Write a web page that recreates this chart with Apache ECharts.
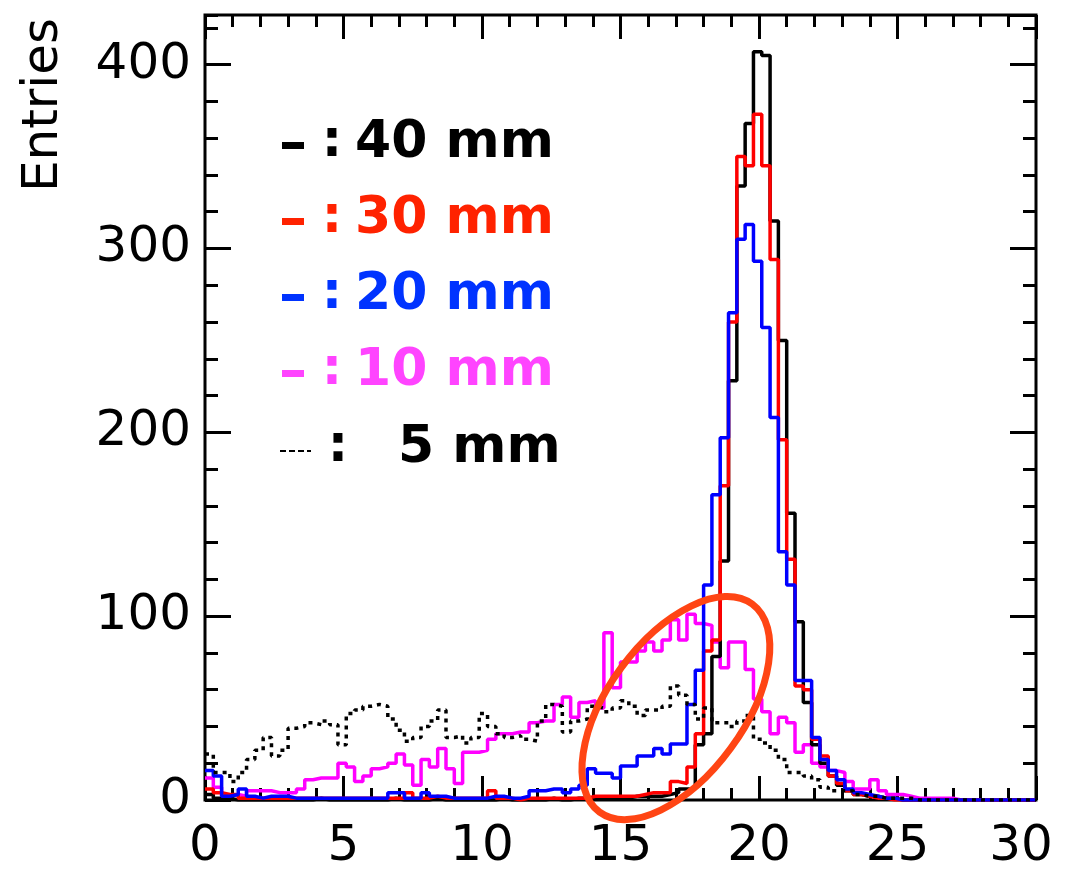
<!DOCTYPE html>
<html>
<head>
<meta charset="utf-8">
<script src="https://cdn.jsdelivr.net/npm/echarts@6/dist/echarts.min.js"></script>
<style>
  html, body { margin: 0; padding: 0; background: #ffffff; }
  #chart { width: 1069px; height: 872px; }
</style>
</head>
<body>
<div id="chart"></div>
<script>
// Histograms: 100 bins of width 0.3 from 0 to 30, one entry per bin.
const binWidth = 0.3;
const xTickLabels = ['0', '5', '10', '15', '20', '25', '30'];
const yTickLabels = ['0', '100', '200', '300', '400'];

const legendLabels = ['40 mm', '30 mm', '20 mm', '10 mm', '5 mm'];

const h40mm = [
  3, 1, 1, 0, 0, 0, 0, 0, 0, 0,
  0, 0, 0, 1, 0, 0, 0, 0, 0, 0,
  0, 0, 1, 0, 0, 0, 0, 1, 0, 0,
  0, 0, 0, 0, 0, 1, 0, 0, 0, 0,
  0, 1, 0, 0, 1, 1, 1, 1, 1, 1,
  1, 2, 2, 2, 2, 3, 4, 6, 6, 30,
  36, 78, 130, 228, 334, 368, 407, 405, 315, 250,
  156, 97, 53, 30, 20, 13, 8, 5, 3, 2,
  2, 1, 1, 0, 0, 0, 0, 0, 0, 0,
  0, 0, 0, 0, 0, 0, 0, 0, 0, 0
];

const h30mm = [
  6, 4, 3, 3, 1, 1, 1, 1, 1, 1,
  1, 1, 1, 1, 1, 1, 1, 1, 1, 1,
  1, 1, 1, 1, 4, 1, 1, 2, 1, 1,
  1, 1, 1, 1, 5, 1, 1, 0, 1, 1,
  1, 1, 1, 1, 1, 1, 2, 2, 2, 2,
  2, 2, 3, 4, 4, 4, 10, 9, 18, 36,
  81, 87, 171, 260, 350, 345, 373, 345, 294, 196,
  131, 62, 60, 33, 24, 13, 9, 5, 3, 2,
  1, 1, 0, 0, 0, 0, 0, 0, 0, 0,
  0, 0, 0, 0, 0, 0, 0, 0, 0, 0
];

const h20mm = [
  16, 13, 2, 3, 6, 2, 1, 2, 2, 2,
  1, 1, 1, 1, 1, 1, 1, 1, 1, 1,
  1, 1, 4, 4, 1, 1, 4, 2, 2, 1,
  1, 1, 1, 1, 2, 2, 1, 1, 2, 5,
  5, 6, 6, 4, 6, 8, 17, 14.5, 14.5, 12,
  18.5, 18.5, 24, 24, 28, 25, 30.5, 30.5, 52, 70.6,
  117, 166, 197, 265, 305, 313, 293, 257, 208, 135,
  117, 65, 65, 34, 22, 16, 11, 6, 4, 3,
  2, 1, 1, 0, 0, 0, 0, 0, 0, 0,
  0, 0, 0, 0, 0, 0, 0, 0, 0, 0
];

const h10mm = [
  12, 7, 2, 3, 2, 5, 5, 5, 4, 4,
  4, 6, 11, 12, 12, 12, 20, 18, 10, 13,
  17, 18, 20, 25, 19, 8, 22, 18, 28, 17,
  9, 26, 26, 27, 33, 36, 36, 37, 37, 42,
  43, 43, 52, 56, 45, 53, 54, 50, 91, 61,
  75, 75, 81, 86, 81, 87, 98, 87, 101, 96,
  95, 86, 72, 86, 86, 71, 55, 48, 36, 45,
  42, 26, 30, 20, 18, 16, 15, 10, 6, 6,
  11, 5, 3, 3, 2, 1, 1, 1, 1, 1,
  0, 0, 0, 0, 0, 0, 0, 0, 0, 0
];

const h5mm = [
  25, 15, 15, 10, 15, 22, 27, 34, 24, 27,
  39, 40, 42, 41, 43, 41, 30, 47, 49, 51,
  52, 51, 44, 38, 32, 34, 40, 43, 49, 34,
  35, 31, 34, 47, 40, 36, 34, 35, 33, 32,
  43, 52, 51, 37, 43, 44, 51, 50, 48, 50,
  54, 51, 46, 49, 49, 51, 62, 57, 52, 44,
  50, 42, 42, 40, 43, 46, 33, 31, 27, 22,
  15, 15, 13, 11, 7, 5, 5, 5, 3, 2,
  2, 1, 1, 1, 1, 0, 0, 0, 0, 0,
  0, 0, 0, 0, 0, 0, 0, 0, 0, 0
];

// Turn bin contents into step points at the bin edges.
function stepPoints(values) {
  const pts = values.map((v, i) => [+(i * binWidth).toFixed(2), v]);
  pts.push([+(values.length * binWidth).toFixed(2), values[values.length - 1]]);
  return pts;
}

const FONT = 'DejaVu Sans';
const X_MIN = 0, X_MAX = 30, Y_MIN = 0, Y_MAX = 427;

const chart = echarts.init(document.getElementById('chart'), null, { renderer: 'canvas' });

// One axis per tick size and side: major/minor ticks, all pointing into the frame.
function tickAxis(kind, position, interval, length, showLabels) {
  const ax = {
    type: 'value',
    position: position,
    min: kind === 'x' ? X_MIN : Y_MIN,
    max: kind === 'x' ? X_MAX : Y_MAX,
    interval: interval,
    axisLine: { show: false, onZero: false },
    splitLine: { show: false },
    axisTick: { show: true, inside: true, length: length, lineStyle: { color: '#000', width: 3 } },
    axisLabel: { show: false }
  };
  if (showLabels) {
    const labels = kind === 'x' ? xTickLabels : yTickLabels;
    const lastLabel = labels[labels.length - 1];
    ax.axisLabel = {
      show: true,
      fontFamily: FONT,
      fontSize: 50,
      color: '#000',
      margin: kind === 'x' ? 22 : 14,
      showMaxLabel: kind === 'x',
      formatter: function (v) {
        const s = String(v);
        if (labels.indexOf(s) < 0) return '';
        // the last x label is pulled in so it stays inside the page
        return (kind === 'x' && s === lastLabel) ? '{edge|' + s + '}' : s;
      },
      rich: {
        edge: { fontFamily: FONT, fontSize: 50, color: '#000', padding: [0, 30, 0, 0] }
      }
    };
  }
  return ax;
}

function histSeries(name, values, color, dashed, z) {
  return {
    name: name,
    type: 'line',
    step: 'end',
    xAxisIndex: 0,
    yAxisIndex: 0,
    data: stepPoints(values),
    showSymbol: false,
    symbol: 'none',
    z: z,
    lineStyle: { color: color, width: 3.5, type: dashed ? [4, 5] : 'solid', cap: 'butt' },
    itemStyle: { color: color },
    silent: true
  };
}

const legendColors = ['#000000', '#ff2200', '#0033ff', '#ff44ff', '#000000'];
const legendRowsY = [143, 219, 295, 371, 448];

const graphics = [];
// y axis title
graphics.push({
  type: 'text',
  x: 44, y: 105,
  rotation: Math.PI / 2,
  style: { text: 'Entries', fontFamily: FONT, fontSize: 50, fill: '#000', align: 'center', verticalAlign: 'middle' },
  z: 50
});
// legend rows
legendLabels.forEach((label, i) => {
  const y = legendRowsY[i];
  const color = legendColors[i];
  if (i < 4) {
    graphics.push({ type: 'rect', shape: { x: 282, y: y - 1, width: 22, height: 7 }, style: { fill: color }, z: 50 });
    graphics.push({ type: 'text', x: 332, y: y, style: { text: ':', fontFamily: FONT, fontWeight: 'bold', fontSize: 51, fill: color, align: 'center', verticalAlign: 'middle' }, z: 50 });
    graphics.push({ type: 'text', x: 355, y: y, style: { text: label, fontFamily: FONT, fontWeight: 'bold', fontSize: 52, fill: color, align: 'left', verticalAlign: 'middle' }, z: 50 });
  } else {
    graphics.push({ type: 'line', shape: { x1: 280, y1: y + 3, x2: 311, y2: y + 3 }, style: { stroke: color, lineWidth: 2, lineDash: [6, 3] }, z: 50 });
    graphics.push({ type: 'text', x: 338, y: y, style: { text: ':', fontFamily: FONT, fontWeight: 'bold', fontSize: 51, fill: color, align: 'center', verticalAlign: 'middle' }, z: 50 });
    graphics.push({ type: 'text', x: 398, y: y, style: { text: label, fontFamily: FONT, fontWeight: 'bold', fontSize: 52, fill: color, align: 'left', verticalAlign: 'middle' }, z: 50 });
  }
});

chart.setOption({
  animation: false,
  backgroundColor: '#ffffff',
  grid: {
    left: 205, top: 15, width: 831, height: 785,
    show: true, borderColor: '#000', borderWidth: 3, backgroundColor: 'transparent'
  },
  xAxis: [
    tickAxis('x', 'bottom', 5, 24, true),
    tickAxis('x', 'bottom', 1, 12, false),
    tickAxis('x', 'top', 5, 24, false),
    tickAxis('x', 'top', 1, 12, false)
  ],
  yAxis: [
    tickAxis('y', 'left', 100, 26, true),
    tickAxis('y', 'left', 20, 13, false),
    tickAxis('y', 'right', 100, 26, false),
    tickAxis('y', 'right', 20, 13, false)
  ],
  series: [
    histSeries('10 mm', h10mm, '#ff00ff', false, 2),
    histSeries('40 mm', h40mm, '#000000', false, 3),
    histSeries('30 mm', h30mm, '#ff0000', false, 4),
    histSeries('20 mm', h20mm, '#0000ff', false, 5),
    histSeries('5 mm', h5mm, '#000000', true, 6)
  ],
  graphic: graphics
});

// Highlight ellipse around the low-side tail, centred in data units.
const ellipseCenter = chart.convertToPixel({ xAxisIndex: 0, yAxisIndex: 0 }, [17, 50]);
chart.setOption({
  graphic: graphics.concat([{
    type: 'ellipse',
    x: ellipseCenter[0], y: ellipseCenter[1],
    rotation: 53.75 * Math.PI / 180,
    shape: { cx: 0, cy: 0, rx: 129, ry: 68 },
    style: { fill: 'none', stroke: '#ff4514', lineWidth: 7 },
    z: 60
  }])
});
</script>
</body>
</html>
